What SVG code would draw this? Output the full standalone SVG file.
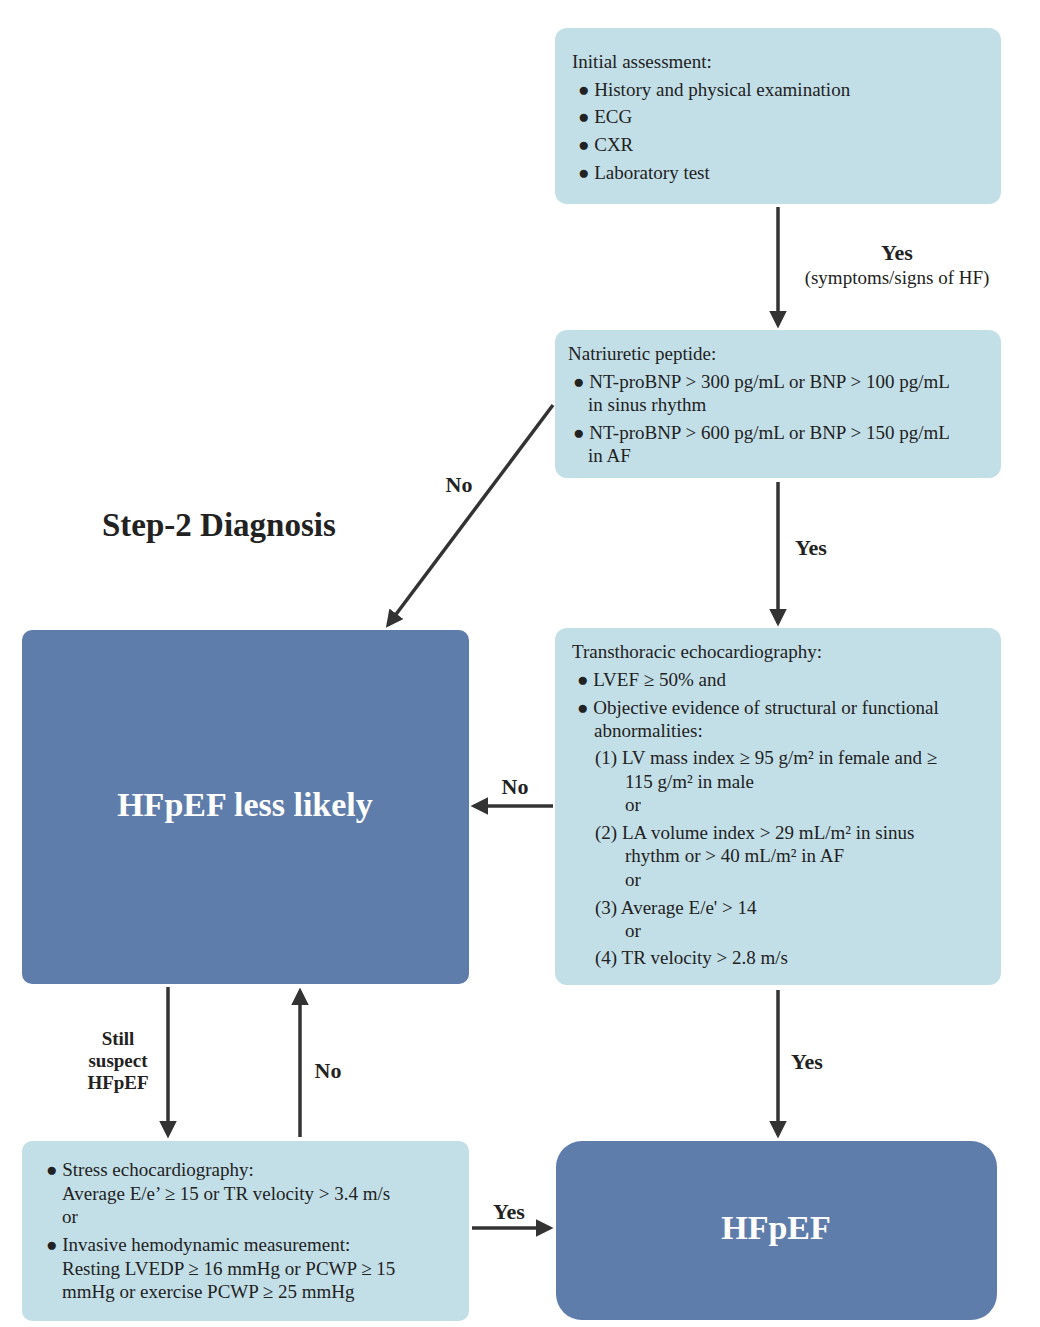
<svg xmlns="http://www.w3.org/2000/svg" width="1040" height="1327" viewBox="0 0 1040 1327">
<style>
text{font-family:"Liberation Serif","Times New Roman",serif;fill:#222}
.t{font-size:19px}
.b{font-size:22px;font-weight:bold}
.lt{fill:#c2dfe8}
.dk{fill:#5f7dab}
.w{fill:#fff;font-weight:bold;font-size:34px}
.ln{stroke:#333;stroke-width:3.5;fill:none;marker-end:url(#a)}
</style>
<defs><marker id="a" viewBox="0 0 10 10" refX="8" refY="5" markerWidth="5" markerHeight="5" orient="auto"><path d="M0,0L10,5L0,10z" fill="#333"/></marker></defs>
<rect width="1040" height="1327" fill="#fff"/>
<text x="102" y="536" style="font-size:33px;font-weight:bold">Step-2 Diagnosis</text>
<g id="n1"><rect class="lt" x="555" y="28" width="446" height="176" rx="12"/>
<text class="t" x="572" y="68">Initial assessment:</text>
<text class="t" x="578" y="96">● History and physical examination</text>
<text class="t" x="578" y="123">● ECG</text>
<text class="t" x="578" y="151">● CXR</text>
<text class="t" x="578" y="179">● Laboratory test</text></g>
<g id="n2"><rect class="lt" x="555" y="330" width="446" height="148" rx="12"/>
<text class="t" x="568" y="360">Natriuretic peptide:</text>
<text class="t" x="573" y="388">● NT-proBNP &gt; 300 pg/mL or BNP &gt; 100 pg/mL</text>
<text class="t" x="588" y="411">in sinus rhythm</text>
<text class="t" x="573" y="439">● NT-proBNP &gt; 600 pg/mL or BNP &gt; 150 pg/mL</text>
<text class="t" x="588" y="462">in AF</text></g>
<g id="n3"><rect class="lt" x="555" y="628" width="446" height="357" rx="12"/>
<text class="t" x="572" y="658">Transthoracic echocardiography:</text>
<text class="t" x="577" y="686">● LVEF ≥ 50% and</text>
<text class="t" x="577" y="714">● Objective evidence of structural or functional</text>
<text class="t" x="594" y="737">abnormalities:</text>
<text class="t" x="595" y="764">(1) LV mass index ≥ 95 g/m² in female and ≥</text>
<text class="t" x="625" y="788">115 g/m² in male</text>
<text class="t" x="625" y="811">or</text>
<text class="t" x="595" y="839">(2) LA volume index &gt; 29 mL/m² in sinus</text>
<text class="t" x="625" y="862">rhythm or &gt; 40 mL/m² in AF</text>
<text class="t" x="625" y="886">or</text>
<text class="t" x="595" y="914">(3) Average E/e' &gt; 14</text>
<text class="t" x="625" y="937">or</text>
<text class="t" x="595" y="964">(4) TR velocity &gt; 2.8 m/s</text></g>
<g id="n4"><rect class="dk" x="22" y="630" width="447" height="354" rx="10"/>
<text class="w" x="245" y="816" text-anchor="middle">HFpEF less likely</text></g>
<g id="n5"><rect class="lt" x="22" y="1141" width="447" height="180" rx="10"/>
<text class="t" x="46" y="1176">● Stress echocardiography:</text>
<text class="t" x="62" y="1200">Average E/e’ ≥ 15 or TR velocity &gt; 3.4 m/s</text>
<text class="t" x="62" y="1223">or</text>
<text class="t" x="46" y="1251">● Invasive hemodynamic measurement:</text>
<text class="t" x="62" y="1275">Resting LVEDP ≥ 16 mmHg or PCWP ≥ 15</text>
<text class="t" x="62" y="1298">mmHg or exercise PCWP ≥ 25 mmHg</text></g>
<g id="n6"><rect class="dk" x="556" y="1141" width="441" height="179" rx="26"/>
<text class="w" x="776" y="1239" text-anchor="middle">HFpEF</text></g>
<g id="edges">
<path class="ln" d="M778,207V325"/>
<path class="ln" d="M778,482V623"/>
<path class="ln" d="M553,405L388,625"/>
<path class="ln" d="M553,806H474"/>
<path class="ln" d="M778,990V1135"/>
<path class="ln" d="M168,987V1135"/>
<path class="ln" d="M300,1137V991"/>
<path class="ln" d="M472,1228H550"/>
<text class="b" x="897" y="260" text-anchor="middle">Yes</text>
<text class="t" x="897" y="284" text-anchor="middle">(symptoms/signs of HF)</text>
<text class="b" x="811" y="555" text-anchor="middle">Yes</text>
<text class="b" x="459" y="492" text-anchor="middle">No</text>
<text class="b" x="515" y="794" text-anchor="middle">No</text>
<text class="b" x="807" y="1069" text-anchor="middle">Yes</text>
<text class="b" x="328" y="1078" text-anchor="middle">No</text>
<text class="b" x="509" y="1219" text-anchor="middle">Yes</text>
<text x="118" y="1045" text-anchor="middle" style="font-size:19px;font-weight:bold">Still</text>
<text x="118" y="1067" text-anchor="middle" style="font-size:19px;font-weight:bold">suspect</text>
<text x="118" y="1089" text-anchor="middle" style="font-size:19px;font-weight:bold">HFpEF</text>
</g>
</svg>
